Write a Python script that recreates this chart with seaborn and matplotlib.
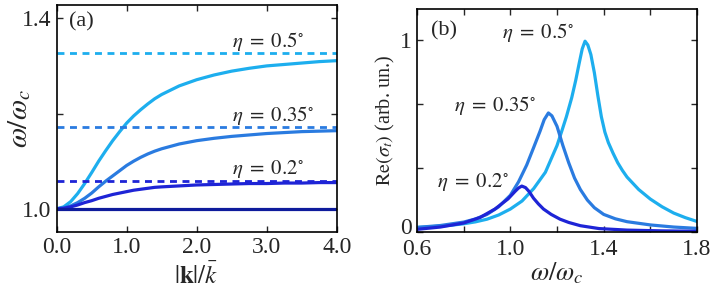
import numpy as np
import pandas as pd
import matplotlib
matplotlib.use("Agg")
import matplotlib.pyplot as plt
import matplotlib.transforms as mtransforms
from matplotlib.ticker import FixedLocator, FixedFormatter
import seaborn as sns

# ---- panel (a): dispersion  omega/omega_c vs |k|/kbar ----
k_grid = [0, 0.1, 0.2, 0.3, 0.4, 0.5, 0.6, 0.7, 0.8, 0.9, 1.0, 1.1, 1.2, 1.3, 1.4, 1.5,
          1.75, 2.0, 2.25, 2.5, 2.75, 3.0, 3.25, 3.5, 3.75, 4.0]
w_05 = [1.0, 1.004, 1.015, 1.032, 1.053, 1.076, 1.100, 1.122, 1.143, 1.162, 1.180, 1.195, 1.208,
        1.220, 1.231, 1.240, 1.258, 1.271, 1.281, 1.289, 1.295, 1.300, 1.303, 1.306, 1.309, 1.311]
w_035 = [1.0, 1.002, 1.006, 1.013, 1.022, 1.033, 1.046, 1.058, 1.069, 1.080, 1.091, 1.100, 1.108,
         1.115, 1.121, 1.126, 1.136, 1.143, 1.148, 1.152, 1.155, 1.158, 1.160, 1.162, 1.163, 1.164]
w_02 = [1.0, 1.001, 1.004, 1.008, 1.013, 1.017, 1.022, 1.026, 1.030, 1.033, 1.036, 1.039, 1.041,
        1.043, 1.045, 1.046, 1.048, 1.050, 1.051, 1.052, 1.053, 1.053, 1.054, 1.054, 1.055, 1.055]
k_flat = [0, 4.0]
w_flat = [1.0, 1.0]
asymptotes = [1.327, 1.172, 1.059]
eta_labels = [r"$\eta\;=\;0.5^{\circ}$", r"$\eta\;=\;0.35^{\circ}$", r"$\eta\;=\;0.2^{\circ}$"]

# ---- panel (b): Re(sigma_t) vs omega/omega_c ----
x_05 = [0.6, 0.65, 0.7, 0.75, 0.8, 0.85, 0.9, 0.95, 1.0, 1.05, 1.1, 1.15, 1.2, 1.22, 1.24, 1.263,
        1.28, 1.295, 1.308, 1.32, 1.332, 1.345, 1.36, 1.375, 1.39, 1.405, 1.42, 1.44, 1.46, 1.48,
        1.50, 1.55, 1.60, 1.65, 1.70, 1.75, 1.80]
s_05 = [0.022, 0.025, 0.029, 0.034, 0.041, 0.051, 0.065, 0.087, 0.118, 0.16, 0.225, 0.31, 0.45,
        0.524, 0.60, 0.70, 0.79, 0.88, 0.955, 0.995, 0.975, 0.925, 0.83, 0.71, 0.60, 0.52, 0.465,
        0.41, 0.36, 0.32, 0.285, 0.22, 0.17, 0.13, 0.097, 0.073, 0.053]
x_035 = [0.6, 0.7, 0.8, 0.85, 0.9, 0.95, 1.0, 1.035, 1.07, 1.1, 1.127, 1.145, 1.163, 1.178, 1.2,
         1.225, 1.25, 1.275, 1.3, 1.33, 1.36, 1.4, 1.45, 1.5, 1.6, 1.7, 1.8]
s_035 = [0.022, 0.032, 0.05, 0.066, 0.09, 0.13, 0.19, 0.26, 0.348, 0.44, 0.524, 0.585, 0.62, 0.605,
         0.55, 0.45, 0.36, 0.28, 0.22, 0.165, 0.125, 0.09, 0.067, 0.052, 0.035, 0.024, 0.017]
x_02 = [0.6, 0.7, 0.8, 0.87, 0.934, 0.99, 1.02, 1.035, 1.049, 1.065, 1.08, 1.099, 1.12, 1.142,
        1.175, 1.213, 1.25, 1.3, 1.38, 1.5, 1.65, 1.8]
s_02 = [0.012, 0.024, 0.045, 0.074, 0.118, 0.171, 0.21, 0.228, 0.238, 0.23, 0.21, 0.175, 0.145,
        0.118, 0.09, 0.065, 0.048, 0.031, 0.016, 0.008, 0.004, 0.002]

c_light = "#1DAEEE"
c_mid = "#2A7BE0"
c_dark = "#1E24D6"
c_flat = "#0E1B9C"

sns.set_style("ticks")
plt.rcParams["font.family"] = ["Liberation Serif", "DejaVu Serif"]
plt.rcParams["mathtext.fontset"] = "stix"
plt.rcParams["axes.linewidth"] = 1.2

fig = plt.figure(figsize=(7.12, 2.91), dpi=100)
ax1 = fig.add_axes([0.0796, 0.204, 0.3933, 0.779])
ax2 = fig.add_axes([0.5857, 0.204, 0.3933, 0.765])

lw = 2.3
cols = [c_light, c_mid, c_dark]

# panel (a)
for ww, c in zip([w_05, w_035, w_02], cols):
    sns.lineplot(x=k_grid, y=ww, ax=ax1, color=c, lw=lw)
sns.lineplot(x=k_flat, y=w_flat, ax=ax1, color=c_flat, lw=lw)
for a, c in zip(asymptotes, cols):
    ax1.axhline(a, color=c, lw=2.0, dashes=(2.5, 2.0))

ax1.set_xlim(0, 4)
ax1.set_ylim(0.952, 1.428)
ax1.xaxis.set_major_locator(FixedLocator([0, 1, 2, 3, 4]))
ax1.xaxis.set_major_formatter(FixedFormatter(["0.0", "1.0", "2.0", "3.0", "4.0"]))
ax1.yaxis.set_major_locator(FixedLocator([1.0, 1.2, 1.4]))
ax1.yaxis.set_major_formatter(FixedFormatter(["1.0", "", "1.4"]))
ax1.set_xlabel(r"$|\mathbf{k}|/\bar{k}$", fontsize=18, labelpad=3)
ax1.set_ylabel(r"$\omega/\omega_c$", fontsize=21)
ax1.yaxis.set_label_coords(-0.085, 0.5)
ax1.text(0.045, 0.925, "(a)", transform=ax1.transAxes, fontsize=16, va="center")
for a, t in zip(asymptotes, eta_labels):
    ax1.text(2.5, a + 0.013, t, fontsize=15, ha="left", va="baseline")

# panel (b)
for xx, ss, c in zip([x_05, x_035, x_02], [s_05, s_035, s_02], cols):
    sns.lineplot(x=xx, y=ss, ax=ax2, color=c, lw=lw)

ax2.set_xlim(0.6, 1.8)
ax2.set_ylim(0, 1.163)
ax2.xaxis.set_major_locator(FixedLocator([0.6, 0.8, 1.0, 1.2, 1.4, 1.6, 1.8]))
ax2.xaxis.set_major_formatter(FixedFormatter(["0.6", "", "1.0", "", "1.4", "", "1.8"]))
ax2.yaxis.set_major_locator(FixedLocator([0, 1 / 3, 2 / 3, 1]))
ax2.yaxis.set_major_formatter(FixedFormatter(["0", "", "", "1"]))
ax2.set_xlabel(r"$\omega/\omega_c$", fontsize=19, labelpad=0)
ax2.set_ylabel(r"$\mathrm{Re}(\sigma_t)$ (arb. un.)", fontsize=14.5)
ax2.yaxis.set_label_coords(-0.07, 0.5)
ax2.text(0.05, 0.9, "(b)", transform=ax2.transAxes, fontsize=16, va="center")
ax2.text(0.965, 1.01, eta_labels[0], fontsize=15, ha="left", va="baseline")
ax2.text(0.76, 0.63, eta_labels[1], fontsize=15, ha="left", va="baseline")
ax2.text(0.684, 0.233, eta_labels[2], fontsize=15, ha="left", va="baseline")

for ax in (ax1, ax2):
    ax.tick_params(direction="in", top=True, right=True, length=4, width=1,
                   labelsize=17, pad=4)
    for s in ax.spines.values():
        s.set_visible(True)
        s.set_color("black")
ax2.tick_params(axis="x", pad=5.5)

# lift the "0" label a little so it clears the "0.6" below it
zero_lbl = ax2.yaxis.get_major_ticks()[0].label1
zero_lbl.set_transform(zero_lbl.get_transform() +
                       mtransforms.ScaledTranslation(0, 4 / 72, fig.dpi_scale_trans))

fig.savefig("out.png", dpi=100)
